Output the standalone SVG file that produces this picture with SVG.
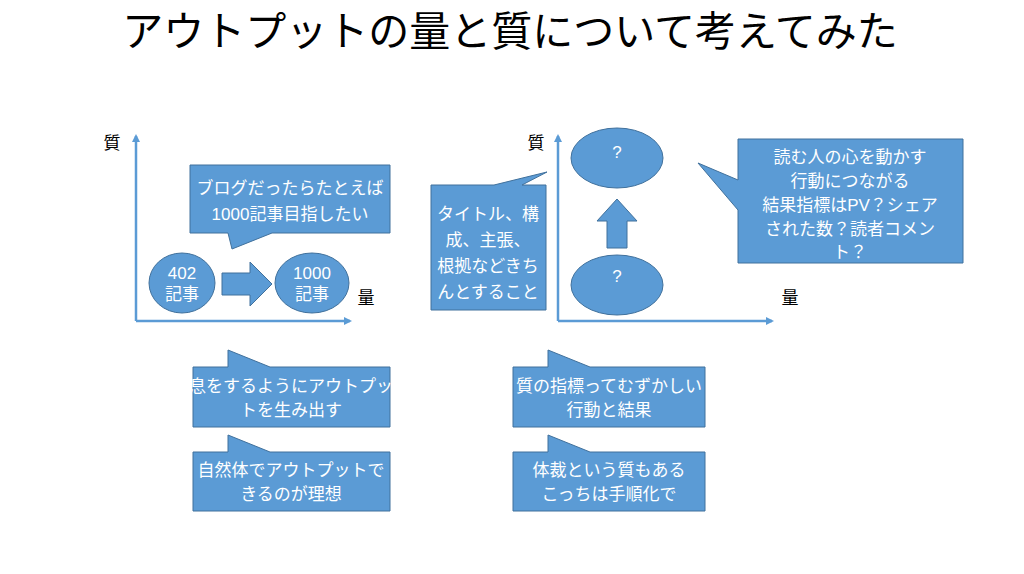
<svg xmlns="http://www.w3.org/2000/svg" width="1024" height="574" viewBox="0 0 1024 574">
<style>
.s{fill:#5b9bd5;stroke:#41719c;stroke-width:1}
.t{font-family:"Liberation Sans","Noto Sans CJK JP",sans-serif;fill:#fff;font-size:17px;text-anchor:middle}
.k{font-family:"Noto Sans CJK JP",sans-serif;fill:#000;font-size:17px;text-anchor:middle}
.ax{stroke:#5b9bd5;stroke-width:2.5;fill:none}
</style>
<defs><marker id="a" markerWidth="8" markerHeight="8" refX="6" refY="4" orient="auto" markerUnits="userSpaceOnUse"><path d="M0,0L8,4L0,8z" fill="#5b9bd5"/></marker></defs>
<rect width="1024" height="574" fill="#fff"/>
<text x="510" y="46" font-family="Noto Sans CJK JP,sans-serif" font-size="41" text-anchor="middle" fill="#000">アウトプットの量と質について考えてみた</text>
<g id="connectors">
<path class="ax" d="M136,321V136" marker-end="url(#a)"/>
<path class="ax" d="M136,321H350" marker-end="url(#a)"/>
<path class="ax" d="M558,321V136" marker-end="url(#a)"/>
<path class="ax" d="M558,321H772" marker-end="url(#a)"/>
</g>
<g id="labels">
<text class="k" x="112" y="149">質</text><text class="k" x="366" y="304">量</text>
<text class="k" x="536" y="149">質</text><text class="k" x="790" y="304">量</text>
</g>
<g id="c1"><path class="s" d="M190,165H390V233H272L232,249L228,233H190Z"/><text class="t" x="290" y="194">ブログだったらたとえば</text><text class="t" x="290" y="220">1000記事目指したい</text></g>
<g id="e402"><ellipse class="s" cx="182" cy="283" rx="33" ry="30"/><text class="t" x="182" y="279" font-size="15">402</text><text class="t" x="182" y="300" font-size="15">記事</text></g>
<g id="arr1"><path class="s" d="M222,273H250V262L272,284L250,306V295H222Z"/></g>
<g id="e1000"><ellipse class="s" cx="312" cy="283" rx="37" ry="30"/><text class="t" x="312" y="279" font-size="15">1000</text><text class="t" x="312" y="300" font-size="15">記事</text></g>
<g id="c2"><path class="s" d="M193,367H228V350L270,367H390V427H193Z"/><text class="t" x="291" y="392" font-size="16">息をするようにアウトプッ</text><text class="t" x="291" y="416">トを生み出す</text></g>
<g id="c3"><path class="s" d="M193,452H228V435L270,452H390V511H193Z"/><text class="t" x="291" y="476">自然体でアウトプットで</text><text class="t" x="291" y="500">きるのが理想</text></g>
<g id="c4"><path class="s" d="M513,367H548V350L590,367H705V427H513Z"/><text class="t" x="609" y="392">質の指標ってむずかしい</text><text class="t" x="609" y="416">行動と結果</text></g>
<g id="c5"><path class="s" d="M513,452H548V435L590,452H705V511H513Z"/><text class="t" x="609" y="476">体裁という質もある</text><text class="t" x="609" y="500">こっちは手順化で</text></g>
<g id="eTop"><ellipse class="s" cx="617" cy="158" rx="46" ry="30"/><text class="t" x="617" y="158" font-size="13">?</text></g>
<g id="eBot"><ellipse class="s" cx="617" cy="285" rx="46" ry="30"/><text class="t" x="617" y="282" font-size="13">?</text></g>
<g id="arr2"><path class="s" d="M607,248V221H597L617,199L637,221H627V248Z"/></g>
<g id="c6"><path class="s" d="M431,185H494L547,172L522,185H546V310H431Z"/><text class="t" x="488" y="220">タイトル、構</text><text class="t" x="488" y="246">成、主張、</text><text class="t" x="488" y="272">根拠などきち</text><text class="t" x="488" y="298">んとすること</text></g>
<g id="c7"><path class="s" d="M738,139H963V263H738V210L698,163L738,180Z"/><text class="t" x="850" y="163">読む人の心を動かす</text><text class="t" x="850" y="187">行動につながる</text><text class="t" x="850" y="211">結果指標はPV？シェア</text><text class="t" x="850" y="235">された数？読者コメン</text><text class="t" x="850" y="258">ト？</text></g>
</svg>
